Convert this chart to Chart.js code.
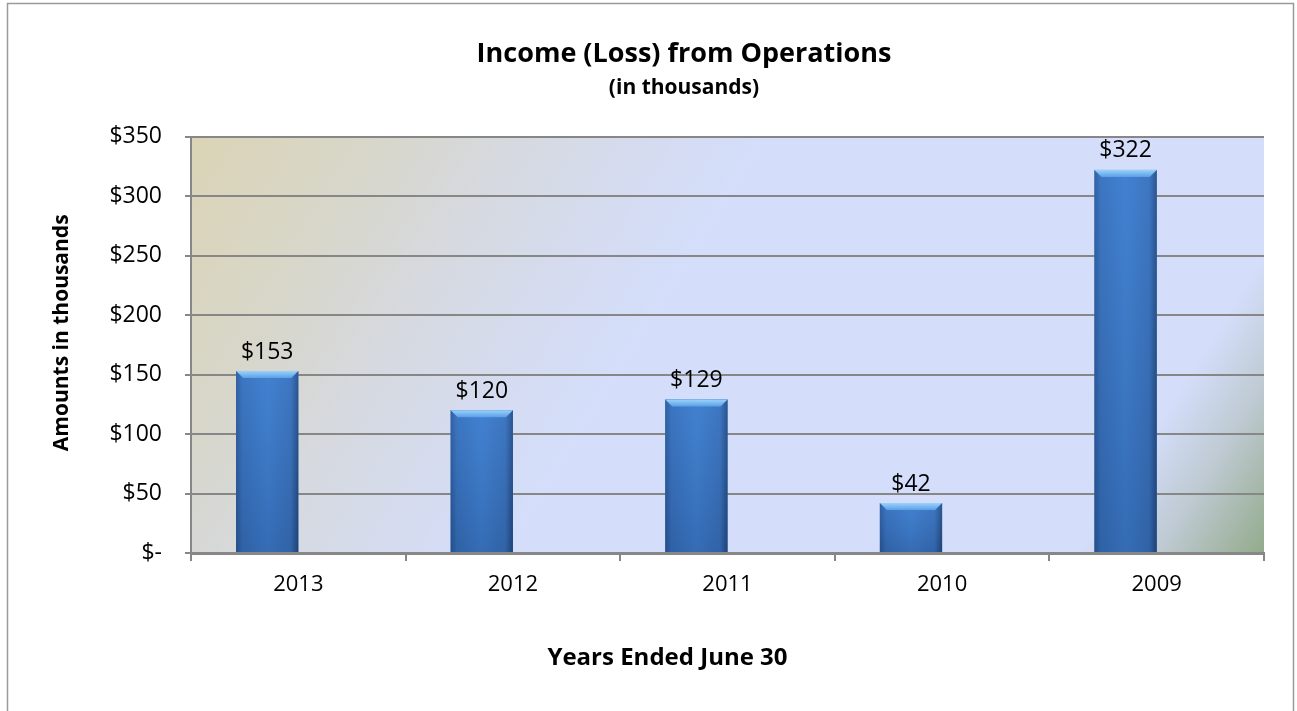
<!DOCTYPE html>
<html>
<head>
<meta charset="utf-8">
<script src="https://cdn.jsdelivr.net/npm/chart.js@4"></script>
<style>
  body{margin:0;background:#fff;}
  #wrap{position:relative;width:1297px;height:711px;}
</style>
</head>
<body>
<div id="wrap"><canvas id="graphe"></canvas></div>
<script>
// data
const years = ["2013", "2012", "2011", "2010", "2009"];
const income = [153, 120, 129, 42, 322];
const emptySeries = [null, null, null, null, null]; // excel's unused 2nd series, keeps bars to the left
const yMax = 350;
const yStep = 50;

const titleText = "Income (Loss) from Operations";
const subText = "(in thousands)";
const xTitle = "Years Ended June 30";
const yTitle = "Amounts in thousands";

const gris = "#878787";
const FONT = "'Open Sans', 'DejaVu Sans', sans-serif";

function money(v){
  return v === 0 ? "$-" : "$" + v;
}

// frame + plot background
const fond = {
  id: "fond",
  beforeDraw(chart){
    const ctx = chart.ctx;
    const a = chart.chartArea;
    ctx.save();
    ctx.strokeStyle = "#9a9a9a";
    ctx.lineWidth = 1.5;
    ctx.strokeRect(7.5, 3.5, 1286, 760);
    const L = a.left, T = a.top;
    const g = ctx.createLinearGradient(L, T, L + 958, T + 599);
    g.addColorStop(0, "#dbd4b6");
    g.addColorStop(0.12, "#d8d6c6");
    g.addColorStop(0.24, "#d6d9de");
    g.addColorStop(0.36, "#d5dcf2");
    g.addColorStop(0.44, "#d4defb");
    g.addColorStop(0.86, "#d4defb");
    g.addColorStop(0.92, "#bfcad3");
    g.addColorStop(1, "#93ab8c");
    ctx.fillStyle = g;
    ctx.fillRect(L, T, a.right - L, a.bottom - T);
    ctx.restore();
  }
};

// bevelled excel bars + value labels
const barres = {
  id: "barres",
  afterDatasetsDraw(chart){
    const ctx = chart.ctx;
    const meta = chart.getDatasetMeta(0);
    ctx.save();
    meta.data.forEach((bar, i) => {
      const p = bar.getProps(["x", "y", "base", "width"], true);
      const l = p.x - p.width / 2, r = p.x + p.width / 2;
      const h = p.base - p.y;
      const g = ctx.createLinearGradient(l, 0, r, 0);
      g.addColorStop(0, "#2a5895");
      g.addColorStop(0.1, "#3770bb");
      g.addColorStop(0.5, "#3e7ecd");
      g.addColorStop(0.88, "#3971bb");
      g.addColorStop(1, "#234a80");
      ctx.fillStyle = g;
      ctx.fillRect(l, p.y, p.width, h);
      const v = ctx.createLinearGradient(0, p.y, 0, p.base);
      v.addColorStop(0, "rgba(90,150,230,0.15)");
      v.addColorStop(1, "rgba(10,30,70,0.18)");
      ctx.fillStyle = v;
      ctx.fillRect(l, p.y, p.width, h);
      // top bevel
      const c = Math.min(7, h / 2);
      const cap = ctx.createLinearGradient(0, p.y, 0, p.y + c);
      cap.addColorStop(0, "#9bd2fb");
      cap.addColorStop(1, "#5a9fe6");
      ctx.fillStyle = cap;
      ctx.beginPath();
      ctx.moveTo(l, p.y);
      ctx.lineTo(r, p.y);
      ctx.lineTo(r - c, p.y + c);
      ctx.lineTo(l + c, p.y + c);
      ctx.closePath();
      ctx.fill();
      // value label
      ctx.fillStyle = "#000";
      ctx.font = "23px " + FONT;
      ctx.textAlign = "center";
      ctx.textBaseline = "middle";
      ctx.fillText(money(income[i]), p.x, p.y - 19);
    });
    ctx.restore();
  }
};

// axis titles sit off-centre in the excel original, so place them here
const titresAxes = {
  id: "titresAxes",
  afterDraw(chart){
    const ctx = chart.ctx;
    const a = chart.chartArea;
    ctx.save();
    ctx.fillStyle = "#000";
    ctx.textAlign = "center";
    ctx.textBaseline = "middle";
    ctx.font = "bold 24px " + FONT;
    ctx.fillText(xTitle, (a.left + a.right) / 2 - 60, 658);
    ctx.translate(62, (a.top + a.bottom) / 2 - 12);
    ctx.rotate(-Math.PI / 2);
    ctx.font = "bold 21px " + FONT;
    ctx.fillText(yTitle, 0, 0);
    ctx.restore();
  }
};

const chart = new Chart(document.getElementById("graphe"), {
  type: "bar",
  data: {
    labels: years,
    datasets: [{
      label: "Income",
      data: income,
      backgroundColor: "#3d7bc9",
      borderWidth: 0
    }, {
      label: "vide",
      data: emptySeries,
      backgroundColor: "rgba(0,0,0,0)"
    }]
  },
  options: {
    responsive: true,
    maintainAspectRatio: false,
    animation: false,
    datasets: {bar: {categoryPercentage: 0.58, barPercentage: 1.0}},
    layout: {padding: {left: 104, right: 33, top: 0, bottom: 0}},
    plugins: {
      legend: {display: false},
      tooltip: {enabled: false},
      title: {
        display: true,
        text: titleText,
        color: "#000",
        font: {family: FONT, size: 27, weight: "bold"},
        padding: {top: 38, bottom: 5}
      },
      subtitle: {
        display: true,
        text: subText,
        color: "#000",
        font: {family: FONT, size: 21, weight: "bold"},
        padding: {top: 0, bottom: 36}
      }
    },
    scales: {
      x: {
        grid: {display: true, drawOnChartArea: false, drawTicks: true, tickLength: 8, color: gris, lineWidth: 2, offset: true},
        border: {display: true, color: gris, width: 3},
        ticks: {color: "#000", font: {family: FONT, size: 22}, padding: 11},
        afterFit(s){ s.height = 158; }
      },
      y: {
        min: 0,
        max: yMax,
        grid: {color: gris, lineWidth: 2, tickLength: 6, drawTicks: true},
        border: {display: true, color: gris, width: 2},
        ticks: {stepSize: yStep, color: "#000", font: {family: FONT, size: 23}, padding: 23, callback: (v) => money(v)},
        afterFit(s){ s.width = 87; }
      }
    }
  },
  plugins: [fond, barres, titresAxes]
});
</script>
</body>
</html>
